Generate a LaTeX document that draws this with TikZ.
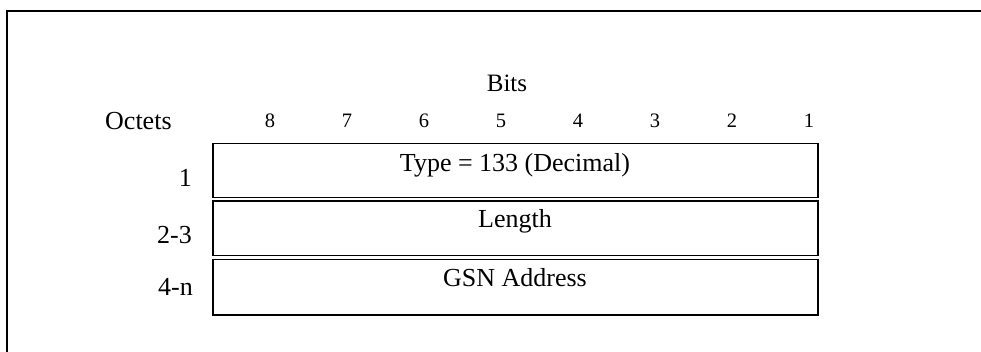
\documentclass[tikz,border=0pt]{standalone}
\usepackage{fontspec}
\setmainfont{Liberation Serif}
\begin{document}
\begin{tikzpicture}[x=1pt,y=-1pt,
  field/.style={draw=black,line width=1.5pt,minimum width=605pt,inner sep=0pt,anchor=north west},
  lbl/.style={inner sep=0pt,font=\fontsize{26}{31}\selectfont},
  bitnum/.style={inner sep=0pt,anchor=base,font=\fontsize{20.5}{24}\selectfont}]
\useasboundingbox (0,0) rectangle (981,352);
% outer frame (top and left edges)
\coordinate (fbl) at (7,352);
\coordinate (ftl) at (7,11);
\coordinate (ftr) at (981,11);
\draw[line width=1.8pt] (fbl) -- (ftl) -- (ftr);
% header
\node[lbl,anchor=base,font=\fontsize{25}{30}\selectfont] (bits) at (507,92) {Bits};
\node[lbl,anchor=base west] (octets) at (105,130) {Octets};
\foreach \b [count=\i from 0] in {8,7,6,5,4,3,2,1}{
  \node[bitnum] (bit\b) at ({270+\i*77},128) {\b};
}
% fields
\node[field,minimum height=54pt] (f1) at (212,143) {};
\node[field,minimum height=54.5pt] (f2) at (212,200.5) {};
\node[field,minimum height=55pt] (f3) at (212,259) {};
\node[lbl,anchor=base] (t1) at (515,172) {Type = 133 (Decimal)};
\node[lbl,anchor=base] (t2) at (515,228) {Length};
\node[lbl,anchor=base] (t3) at (515,287) {GSN Address};
% octet numbers
\node[lbl,anchor=base east] (o1) at (192,187) {1};
\node[lbl,anchor=base east] (o2) at (192,244) {2-3};
\node[lbl,anchor=base east] (o3) at (193,295) {4-n};
\end{tikzpicture}
\end{document}
